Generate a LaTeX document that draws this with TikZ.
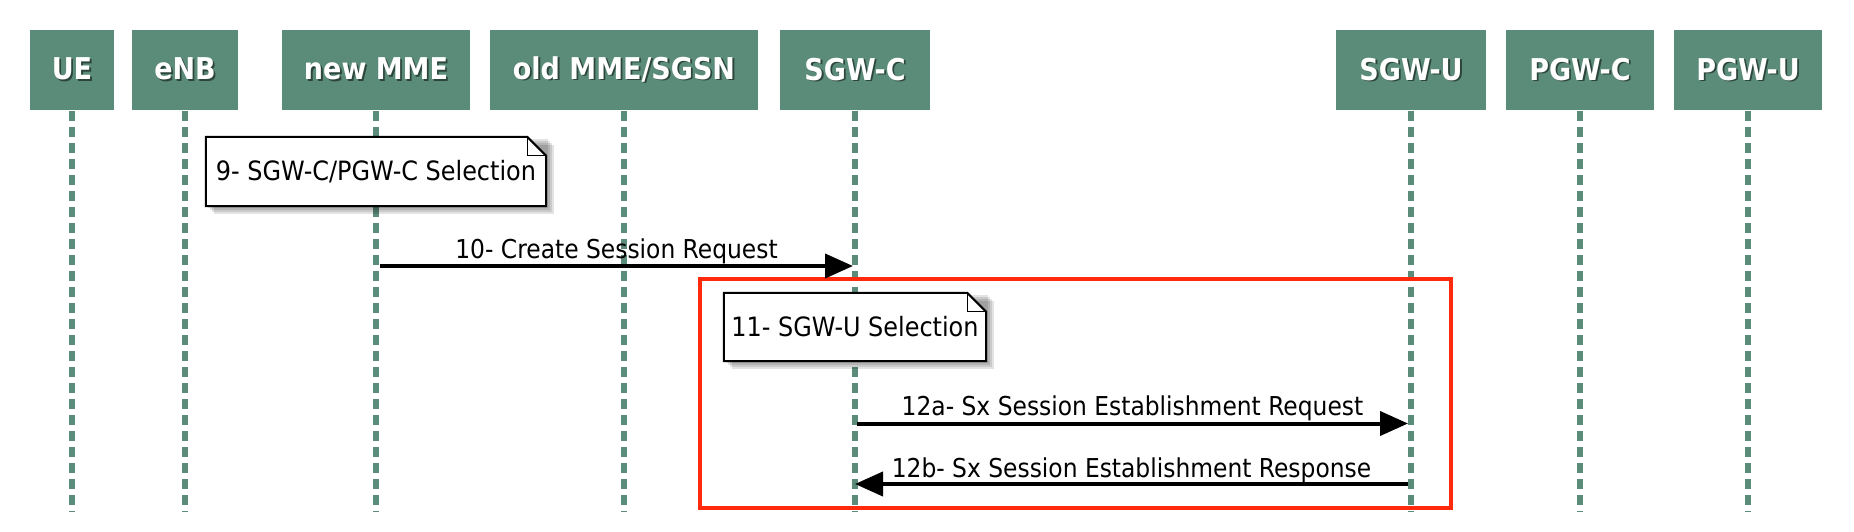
\documentclass[tikz,border=0pt]{standalone}
\usepackage{fontspec}
\setmainfont{DejaVu Sans Condensed}
\usetikzlibrary{arrows.meta,calc}
\definecolor{boxc}{RGB}{91,140,121}
\definecolor{redc}{RGB}{255,42,12}
\definecolor{txtsh}{RGB}{45,70,60}
\newcommand\shtxt[1]{\makebox[0pt][l]{\kern1.8pt\raisebox{-1.8pt}{\textcolor{txtsh}{#1}}}#1}
\pgfdeclarelayer{lines}\pgfdeclarelayer{shad}\pgfdeclarelayer{body}
\pgfsetlayers{lines,shad,body,main}
\newcommand\notedraw[1]{%
 \begin{pgfonlayer}{shad}
  \foreach \d in {2,4,6,8}{\fill[black,opacity=0.11] ([xshift=\d pt,yshift=-\d pt]#1.north west) rectangle ([xshift=\d pt,yshift=-\d pt]#1.south east);}
 \end{pgfonlayer}
 \begin{pgfonlayer}{body}
  \draw[line width=2pt, fill=white, line join=miter] (#1.north west) -- ([xshift=-19pt]#1.north east) -- ([yshift=-19pt]#1.north east) -- (#1.south east) -- (#1.south west) -- cycle;
  \draw[line width=1pt] ([xshift=-19pt]#1.north east) |- ([yshift=-19pt]#1.north east);
 \end{pgfonlayer}}
\begin{document}
\begin{tikzpicture}[x=1pt,y=-1pt,
 hdr/.style={fill=boxc, text=white, font=\bfseries\fontsize{30}{30}\selectfont, inner sep=0pt, minimum height=80pt},
 life/.style={boxc, line width=5.5pt, dash pattern=on 10pt off 6pt},
 msg/.style={line width=4pt, -{Triangle[length=28pt,width=24pt]}},
 lbl/.style={font=\fontsize{26}{26}\selectfont, anchor=base, inner sep=0pt},
 notebox/.style={font=\fontsize{26.6}{26.6}\selectfont, inner sep=0pt},
 frame/.style={draw=redc, line width=4pt, inner sep=0pt}
]
\useasboundingbox (0,0) rectangle (1854,532);
\node[hdr, minimum width=84pt]  (ue)   at (72,70)   {\shtxt{UE}};
\node[hdr, minimum width=106pt] (enb)  at (185,70)  {\shtxt{eNB}};
\node[hdr, minimum width=188pt] (mme)  at (376,70)  {\shtxt{new MME}};
\node[hdr, minimum width=268pt] (old)  at (624,70)  {\shtxt{old MME/SGSN}};
\node[hdr, minimum width=150pt] (sgwc) at (855,70)  {\shtxt{SGW-C}};
\node[hdr, minimum width=150pt] (sgwu) at (1411,70) {\shtxt{SGW-U}};
\node[hdr, minimum width=148pt] (pgwc) at (1580,70) {\shtxt{PGW-C}};
\node[hdr, minimum width=148pt] (pgwu) at (1748,70) {\shtxt{PGW-U}};
\coordinate (bot) at (0,512);
\begin{pgfonlayer}{lines}
\foreach \n in {ue,enb,mme,old,sgwc,sgwu,pgwc,pgwu}
  \draw[life] ([yshift=-0.7pt]\n.south) -- (\n.south |- bot);
\node[frame, minimum width=751pt, minimum height=229pt] (box) at (1075.5,393.5) {};
\end{pgfonlayer}
\node[notebox, minimum width=340pt, minimum height=69pt] (n9) at (376,171.5) {9- SGW-C/PGW-C Selection};
\notedraw{n9}
\node[notebox, minimum width=262pt, minimum height=68pt] (n11) at (855,327) {11- SGW-U Selection};
\notedraw{n11}
\coordinate (r10) at (0,266);
\coordinate (r12a) at (0,423.5);
\coordinate (r12b) at (0,484);
\draw[msg] ($(mme.south |- r10)+(4,0)$) -- ($(sgwc.south |- r10)+(-2,0)$)
  node[lbl, midway, yshift=8pt] {10- Create Session Request};
\draw[msg] ($(sgwc.south |- r12a)+(2,0)$) -- ($(sgwu.south |- r12a)+(-3,0)$)
  node[lbl, midway, yshift=8pt] {12a- Sx Session Establishment Request};
\draw[msg] ($(sgwu.south |- r12b)+(-3,0)$) -- ($(sgwc.south |- r12b)+(0,0)$)
  node[lbl, midway, yshift=7pt] {12b- Sx Session Establishment Response};
\end{tikzpicture}
\end{document}
